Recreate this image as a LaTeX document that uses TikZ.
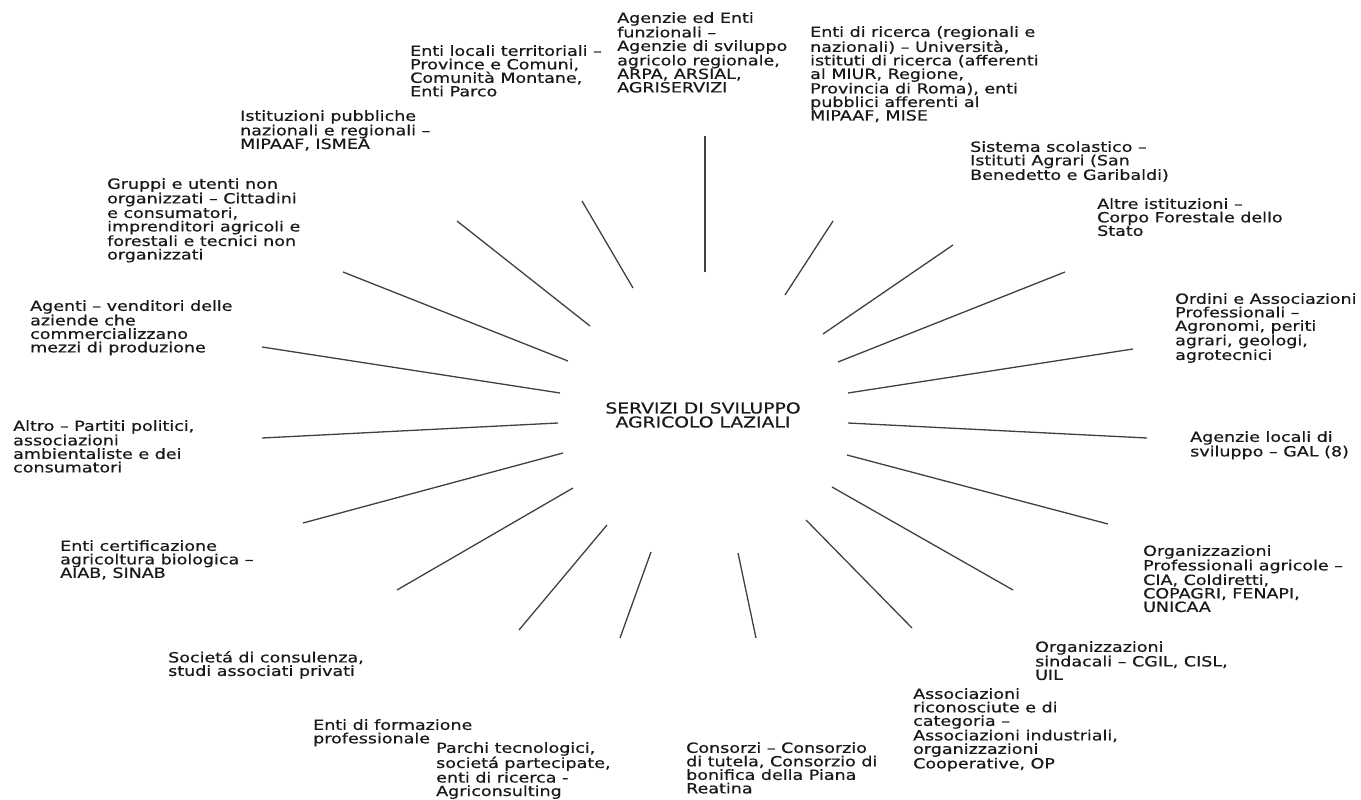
\documentclass[tikz,border=0pt]{standalone}
\usepackage{fontspec}
\setmainfont{DejaVu Sans}[FakeStretch=1.25, FakeBold=0.6]
\tikzset{
  lab/.style={anchor=north west, align=left, inner sep=0pt, text=black!90, font=\fontsize{14}{13.5}\selectfont},
  ray/.style={draw=black!75, line width=1.3pt}
}
\begin{document}
\begin{tikzpicture}[x=1pt,y=-1pt]
				\useasboundingbox (0,0) rectangle (1361,800);
				\node[align=center, inner sep=0pt, text=black!90, font=\fontsize{15}{14}\selectfont] (centro) at (703,415) {SERVIZI DI SVILUPPO\\AGRICOLO LAZIALI};
				\node[lab] (agenzie) at (617,12) {Agenzie ed Enti\\funzionali –\\Agenzie di sviluppo\\agricolo regionale,\\ARPA, ARSIAL,\\AGRISERVIZI};
				\node[lab] (locali) at (410,45) {Enti locali territoriali –\\Province e Comuni,\\Comunità Montane,\\Enti Parco};
				\node[lab] (istituzioni) at (240,110) {Istituzioni pubbliche\\nazionali e regionali –\\MIPAAF, ISMEA};
				\node[lab] (gruppi) at (107,178) {Gruppi e utenti non\\organizzati – Cittadini\\e consumatori,\\imprenditori agricoli e\\forestali e tecnici non\\organizzati};
				\node[lab] (agenti) at (30,300) {Agenti – venditori delle\\aziende che\\commercializzano\\mezzi di produzione};
				\node[lab] (altro) at (13,420) {Altro – Partiti politici,\\associazioni\\ambientaliste e dei\\consumatori};
				\node[lab] (certif) at (60,540) {Enti certificazione\\agricoltura biologica –\\AIAB, SINAB};
				\node[lab] (consulenza) at (168,651) {Societá di consulenza,\\studi associati privati};
				\node[lab] (formazione) at (313,719) {Enti di formazione\\professionale};
				\node[lab] (parchi) at (436,742) {Parchi tecnologici,\\societá partecipate,\\enti di ricerca -\\Agriconsulting};
				\node[lab] (consorzi) at (686,742) {Consorzi – Consorzio\\di tutela, Consorzio di\\bonifica della Piana\\Reatina};
				\node[lab] (associazioni) at (913,688) {Associazioni\\riconosciute e di\\categoria –\\Associazioni industriali,\\organizzazioni\\Cooperative, OP};
				\node[lab] (sindacali) at (1035,641) {Organizzazioni\\sindacali – CGIL, CISL,\\UIL};
				\node[lab] (professionali) at (1143,545) {Organizzazioni\\Professionali agricole –\\CIA, Coldiretti,\\COPAGRI, FENAPI,\\UNICAA};
				\node[lab] (gal) at (1190,431) {Agenzie locali di\\sviluppo – GAL (8)};
				\node[lab] (ordini) at (1175,293) {Ordini e Associazioni\\Professionali –\\Agronomi, periti\\agrari, geologi,\\agrotecnici};
				\node[lab] (altre) at (1097,198) {Altre istituzioni –\\Corpo Forestale dello\\Stato};
				\node[lab] (scuola) at (970,141) {Sistema scolastico –\\Istituti Agrari (San\\Benedetto e Garibaldi)};
				\node[lab] (ricerca) at (810,26) {Enti di ricerca (regionali e\\nazionali) – Università,\\istituti di ricerca (afferenti\\al MIUR, Regione,\\Provincia di Roma), enti\\pubblici afferenti al\\MIPAAF, MISE};
				\foreach \n/\ix/\iy/\ox/\oy in {agenzie/705/272/705/136, locali/633/288/582/201, istituzioni/590/326/457/221,
						gruppi/568/361/343/272, agenti/560/393/262/347, altro/558/423/262/438, certif/563/453/303/523,
						consulenza/573/488/397/590, formazione/607/525/519/630, parchi/651/552/620/638, consorzi/738/553/756/638,
						associazioni/806/520/912/628, sindacali/832/487/1013/590, professionali/847/455/1108/524,
						gal/848/423/1147/438, ordini/848/393/1133/349, altre/838/362/1065/272, scuola/823/334/953/245,
						ricerca/785/295/833/221} {
					\coordinate (in\n) at (\ix,\iy);
					\coordinate (out\n) at (\ox,\oy);
					\draw[ray] (in\n) -- (out\n);
				}
			\end{tikzpicture}
\end{document}
